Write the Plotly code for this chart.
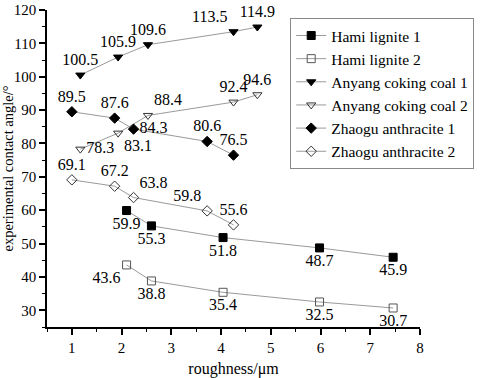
import plotly.graph_objects as go

hami_x = [2.10, 2.60, 4.04, 5.98, 7.46]
hami1_y = [59.9, 55.3, 51.8, 48.7, 45.9]
hami2_y = [43.6, 38.8, 35.4, 32.5, 30.7]
anyang_x = [1.17, 1.93, 2.53, 4.25, 4.73]
anyang1_y = [100.5, 105.9, 109.6, 113.5, 114.9]
anyang2_y = [78.3, 83.1, 88.4, 92.4, 94.6]
zhaogu_x = [1.00, 1.86, 2.24, 3.72, 4.25]
zhaogu1_y = [89.5, 87.6, 84.3, 80.6, 76.5]
zhaogu2_y = [69.1, 67.2, 63.8, 59.8, 55.6]

names = ["Hami lignite 1", "Hami lignite 2", "Anyang coking coal 1",
         "Anyang coking coal 2", "Zhaogu anthracite 1", "Zhaogu anthracite 2"]

FONT = "Liberation Serif, Times New Roman, serif"

series = [
    (names[0], hami_x, hami1_y, "square", "black", ["bottom center"] * 5),
    (names[1], hami_x, hami2_y, "square-open", "#555555", ["bottom left", "bottom center", "bottom center", "bottom center", "bottom center"]),
    (names[2], anyang_x, anyang1_y, "triangle-down", "black", ["top center", "top center", "top center", "top left", "top center"]),
    (names[3], anyang_x, anyang2_y, "triangle-down-open", "#333333", ["middle right", "bottom right", "top right", "top center", "top center"]),
    (names[4], zhaogu_x, zhaogu1_y, "diamond", "black", ["top center", "top center", "middle right", "top center", "top center"]),
    (names[5], zhaogu_x, zhaogu2_y, "diamond-open", "#333333", ["top center", "top center", "top right", "top left", "top center"]),
]

fig = go.Figure()
for name, xs, ys, sym, col, pos in series:
    fig.add_trace(go.Scatter(
        x=xs, y=ys, name=name, mode="lines+markers+text",
        text=[f"{v:.1f}" for v in ys], textposition=pos,
        textfont=dict(family=FONT, size=16, color="black"),
        line=dict(color="#9a9a9a", width=1),
        marker=dict(symbol=sym, size=8, color=col,
                    line=dict(color=col, width=1)),
        cliponaxis=False,
    ))

axis_common = dict(
    showgrid=False, zeroline=False, showline=True, linecolor="black", linewidth=1.5,
    ticks="outside", ticklen=6, tickwidth=1.5, tickcolor="black",
    tickfont=dict(family=FONT, size=15, color="black"),
    minor=dict(ticks="outside", ticklen=3, tickwidth=1, tickcolor="black"),
    automargin=False,
)

fig.update_xaxes(range=[0.5, 8], dtick=1, minor_dtick=0.5, **axis_common,
                 title=dict(text="roughness/μm", font=dict(family=FONT, size=16, color="black"), standoff=14))
fig.update_yaxes(range=[25, 120], dtick=10, minor_dtick=5, **axis_common,
                 title=dict(text="experimental contact angle/°", font=dict(family=FONT, size=14.5, color="black"), standoff=10))

fig.update_layout(
    width=484, height=378,
    margin=dict(l=47, r=43, t=10, b=51),
    paper_bgcolor="white", plot_bgcolor="white",
    showlegend=True,
    legend=dict(x=0.652, y=0.975, xanchor="left", yanchor="top",
                bordercolor="#888888", borderwidth=1, bgcolor="white",
                font=dict(family=FONT, size=15.5, color="black"),
                tracegroupgap=0, itemwidth=30),
)

fig.write_html("out.html", config={"displayModeBar": False},
               post_script="document.body.style.margin='0';")
